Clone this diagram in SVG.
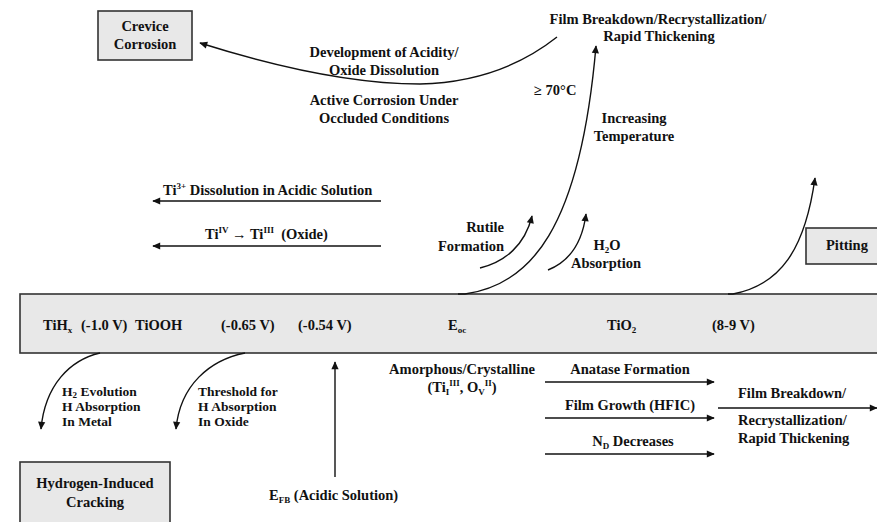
<svg xmlns="http://www.w3.org/2000/svg" width="877" height="522" viewBox="0 0 877 522">
<style>
text{font-family:"Times New Roman","Liberation Serif",Tinos,"DejaVu Serif",serif;font-size:14.5px;font-weight:bold;fill:#111}
.c{text-anchor:middle}
.e{text-anchor:end}
.s{font-size:9px}
.t{font-size:13.5px}
.box{fill:#e8e8e8;stroke:#333;stroke-width:1.6}
.ln{fill:none;stroke:#111;stroke-width:1.4}
</style>
<defs>
<marker id="ah" viewBox="0 0 10 10" refX="9" refY="5" markerWidth="9" markerHeight="8" markerUnits="userSpaceOnUse" orient="auto"><path d="M0,0.5 L10,5 L0,9.5 z" fill="#111"/></marker>
</defs>
<rect width="877" height="522" fill="#fff"/>

<g id="bar">
<rect class="box" x="20" y="294" width="880" height="59"/>
<text x="43" y="330">TiH<tspan class="s" dy="3">x</tspan></text>
<text x="81" y="330">(-1.0 V)</text>
<text x="135" y="330">TiOOH</text>
<text x="221" y="330">(-0.65 V)</text>
<text x="298" y="330">(-0.54 V)</text>
<text x="448" y="330">E<tspan class="s" dy="3">oc</tspan></text>
<text x="607" y="330">TiO<tspan class="s" dy="3">2</tspan></text>
<text x="712" y="330">(8-9 V)</text>
</g>

<g id="crevice">
<rect class="box" x="98" y="11" width="94" height="49"/>
<text class="c" x="145" y="31">Crevice</text>
<text class="c" x="145" y="49">Corrosion</text>
</g>

<g id="film-top">
<text class="c" x="658" y="24">Film Breakdown/Recrystallization/</text>
<text class="c" x="659" y="41">Rapid Thickening</text>
</g>

<g id="pitting">
<rect class="box" x="806" y="228" width="90" height="36"/>
<text x="826" y="250">Pitting</text>
</g>

<g id="hic">
<rect class="box" x="20" y="462" width="150" height="80"/>
<text class="c" x="95" y="488">Hydrogen-Induced</text>
<text class="c" x="95" y="507">Cracking</text>
</g>

<g id="efb">
<text x="269" y="500">E<tspan class="s" dy="3">FB</tspan><tspan dy="-3"> (Acidic Solution)</tspan></text>
</g>

<g id="amorphous">
<text class="c" x="462" y="374">Amorphous/Crystalline</text>
<text class="c" x="462" y="392">(Ti<tspan class="s" dy="3">I</tspan><tspan class="s" dy="-9">III</tspan><tspan dy="6">, O</tspan><tspan class="s" dy="3">V</tspan><tspan class="s" dy="-9">II</tspan><tspan dy="6">)</tspan></text>
</g>

<g id="film-right">
<text x="738" y="398">Film Breakdown/</text>
<text x="738" y="425">Recrystallization/</text>
<text x="738" y="443">Rapid Thickening</text>
</g>

<g id="connectors">
<path class="ln" d="M557,37 Q500,82 420,84 Q330,84 200,43" marker-end="url(#ah)"/>
<path class="ln" d="M458,294 L465,294 C530,285 580,230 596,46" marker-end="url(#ah)"/>
<path class="ln" d="M480,268 C505,262 525,245 532,216" marker-end="url(#ah)"/>
<path class="ln" d="M548,270 C568,262 582,245 586,214" marker-end="url(#ah)"/>
<path class="ln" d="M728,294 L733,294 C780,285 805,250 815,178" marker-end="url(#ah)"/>
<path class="ln" d="M381,201 L153,201" marker-end="url(#ah)"/>
<path class="ln" d="M381,246 L153,246" marker-end="url(#ah)"/>
<path class="ln" d="M100,353 C70,360 45,385 41,429" marker-end="url(#ah)"/>
<path class="ln" d="M245,353 C210,360 180,385 176,429" marker-end="url(#ah)"/>
<path class="ln" d="M335,477 L335,362" marker-end="url(#ah)"/>
<path class="ln" d="M545,382 L714,382" marker-end="url(#ah)"/>
<path class="ln" d="M545,418 L714,418" marker-end="url(#ah)"/>
<path class="ln" d="M545,454 L714,454" marker-end="url(#ah)"/>
<path class="ln" d="M718,408 L877,408" marker-end="url(#ah)"/>
</g>

<g id="labels">
<text class="c" x="384" y="57">Development of Acidity/</text>
<text class="c" x="384" y="75">Oxide Dissolution</text>
<text class="c" x="384" y="105">Active Corrosion Under</text>
<text class="c" x="384" y="123">Occluded Conditions</text>
<text x="534" y="95">≥ 70°C</text>
<text class="c" x="634" y="123">Increasing</text>
<text class="c" x="634" y="141">Temperature</text>
<text class="e" x="504" y="232">Rutile</text>
<text class="e" x="504" y="251">Formation</text>
<text class="c" x="607" y="250">H<tspan class="s" dy="3">2</tspan><tspan dy="-3">O</tspan></text>
<text class="c" x="606" y="268">Absorption</text>
<text x="163" y="195">Ti<tspan class="s" dy="-6">3+</tspan><tspan dy="6"> Dissolution in Acidic Solution</tspan></text>
<text x="205" y="239">Ti<tspan class="s" dy="-6">IV</tspan><tspan dy="6"> → Ti</tspan><tspan class="s" dy="-6">III</tspan><tspan dy="6" xml:space="preserve">  (Oxide)</tspan></text>
<text class="t" x="62" y="396">H<tspan class="s" dy="2">2</tspan><tspan dy="-2"> Evolution</tspan></text>
<text class="t" x="62" y="411">H Absorption</text>
<text class="t" x="62" y="426">In Metal</text>
<text class="t" x="198" y="396">Threshold for</text>
<text class="t" x="198" y="411">H Absorption</text>
<text class="t" x="198" y="426">In Oxide</text>
<text class="c" x="630" y="374">Anatase Formation</text>
<text class="c" x="630" y="410">Film Growth (HFIC)</text>
<text class="c" x="633" y="446">N<tspan class="s" dy="3">D</tspan><tspan dy="-3"> Decreases</tspan></text>
</g>
</svg>
